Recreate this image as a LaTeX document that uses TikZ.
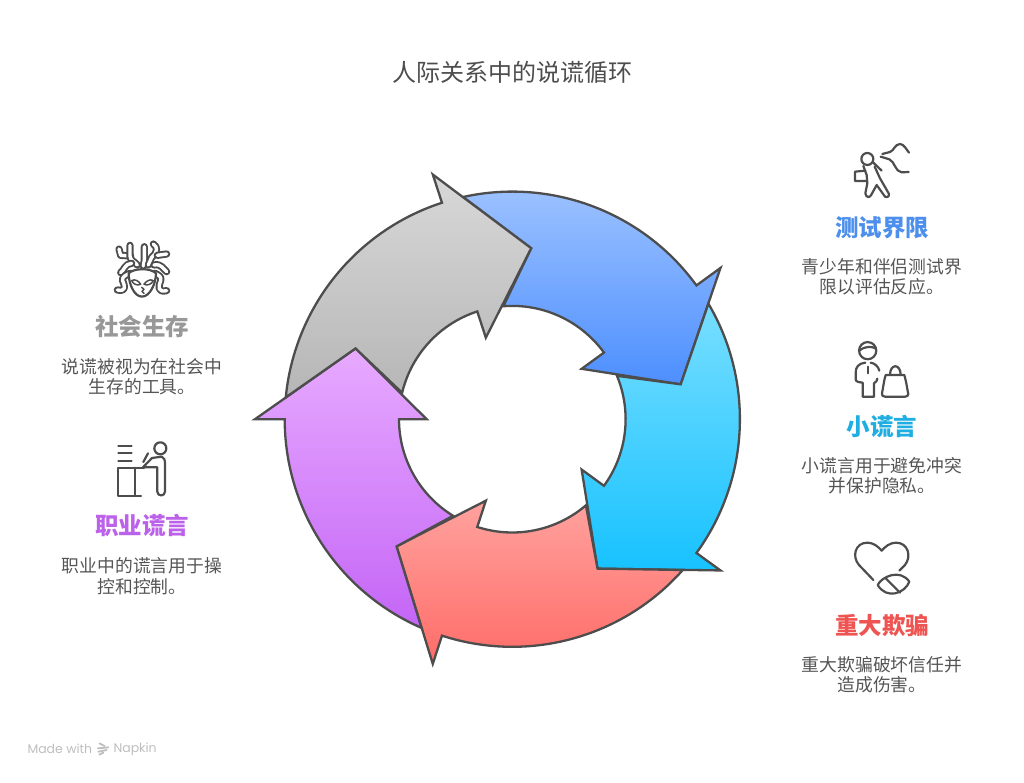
\documentclass[tikz,border=0pt]{standalone}
\usepackage{fontspec}
\setmainfont{Noto Sans CJK SC}
\newfontfamily\markfont{Poppins}
\definecolor{linegray}{HTML}{4D4D4D}
\definecolor{textgray}{HTML}{555555}
\definecolor{markgray}{HTML}{BEBEBE}
\definecolor{blueTop}{HTML}{A0C4FF}
\definecolor{blueBot}{HTML}{4D8FFF}
\definecolor{cyanTop}{HTML}{78DEFF}
\definecolor{cyanBot}{HTML}{17C2FF}
\definecolor{redTop}{HTML}{FFA29E}
\definecolor{redBot}{HTML}{FF6C68}
\definecolor{purpleTop}{HTML}{E7AAFF}
\definecolor{purpleBot}{HTML}{C465F6}
\definecolor{grayTop}{HTML}{D8D8D8}
\definecolor{grayBot}{HTML}{B6B6B6}
\definecolor{headBlue}{HTML}{4C8FEC}
\definecolor{headCyan}{HTML}{1FAEE2}
\definecolor{headRed}{HTML}{EE5552}
\definecolor{headGray}{HTML}{989898}
\definecolor{headPurple}{HTML}{BC62EA}
\tikzset{
  titletext/.style={text=linegray,font=\fontsize{24}{30}\selectfont},
  headtext/.style={font=\bfseries\fontsize{23.5}{28}\selectfont},
  desctext/.style={text=textgray,align=center,font=\fontsize{17.8}{20.4}\selectfont},
  marktext/.style={text=markgray,anchor=west,font=\markfont\fontsize{12.5}{15}\selectfont},
  icon/.style={draw=linegray,line width=2.2pt,line cap=round,line join=round},
  snake/.style={draw=linegray,line width=1.9pt,double=white,double distance=3.4pt,line cap=round,line join=round},
  logo/.style={draw=markgray,line width=1.8pt,line cap=round},
  zoomed/.style={x=.3333pt,y=-.3333pt}
}
\begin{document}
\begin{tikzpicture}[x=1pt,y=1pt]
\useasboundingbox (0,0) rectangle (1024,782);

% title
\node (title) at (512,710) [titletext] {人际关系中的说谎循环};

% ring of arrows
\begin{scope}[shift={(512.3,362.8)}]
\foreach \ang/\ctop/\cbot in {36/blueTop/blueBot,-36/cyanTop/cyanBot,-108/redTop/redBot,180/purpleTop/purpleBot,108/grayTop/grayBot}{
  \path[draw=linegray,line width=2.3pt,shading=axis,top color=\ctop,bottom color=\cbot]
    (\ang+66.5:227.6) arc[start angle=\ang+66.5,end angle=\ang,radius=227.6]
    -- (\ang:257.3) -- (\ang-24.3:172) -- (\ang:85.7) -- (\ang:113.3)
    arc[start angle=\ang,end angle=\ang+58.5,radius=113.3]
    -- (\ang+47.7:172) -- cycle;
}
\end{scope}

% right column
\node (headTest) at (882,554) [headtext,text=headBlue] {测试界限};
\node (descTest) at (882,505) [desctext] {青少年和伴侣测试界\\限以评估反应。};
\node (headSmall) at (882,355) [headtext,text=headCyan] {小谎言};
\node (descSmall) at (882,306) [desctext] {小谎言用于避免冲突\\并保护隐私。};
\node (headBig) at (882,156) [headtext,text=headRed] {重大欺骗};
\node (descBig) at (882,107) [desctext] {重大欺骗破坏信任并\\造成伤害。};

% left column
\node (headSocial) at (142,455) [headtext,text=headGray] {社会生存};
\node (descSocial) at (142,405) [desctext] {说谎被视为在社会中\\生存的工具。};
\node (headWork) at (142,256) [headtext,text=headPurple] {职业谎言};
\node (descWork) at (142,206) [desctext] {职业中的谎言用于操\\控和控制。};

% runner
\begin{scope}[shift={(790,652)},zoomed]
\draw[icon] (232,87) circle (6pt);
\draw[icon] (226,122) -- (195,125) -- (195,153) -- (230,153);
\draw[icon] (220,108) -- (230,135) -- (232,160) -- (226,190) .. controls (228,204) and (240,204) .. (244,194) -- (260,165) -- (285,200) .. controls (292,204) and (300,198) .. (296,190) -- (270,145) -- (254,110);
\draw[icon] (250,98) -- (275,122);
\draw[icon] (277,72) -- (300,66) .. controls (312,62) and (315,42) .. (330,42) .. controls (342,42) and (350,60) .. (357,68);
\draw[icon] (272,80) -- (298,88) .. controls (315,95) and (315,125) .. (335,127) -- (356,126);
\end{scope}

% person with bag
\begin{scope}[shift={(790,452)},zoomed]
\draw[icon] (233,62) circle (8.6pt);
\draw[icon] (208,62) .. controls (225,48) and (245,48) .. (258,56);
\draw[icon] (226,98) .. controls (205,100) and (197,112) .. (197,128) -- (197,148) .. controls (197,156) and (210,158) .. (218,158) -- (218,200) -- (252,200) -- (252,160) .. controls (258,156) and (262,152) .. (262,146);
\draw[icon] (242,98) .. controls (255,100) and (265,110) .. (268,122);
\draw[icon] (234,110) -- (234,130);
\draw[icon] (287,135) -- (343,135) .. controls (350,160) and (352,180) .. (355,192) .. controls (355,198) and (350,200) .. (345,200) -- (285,200) .. controls (278,200) and (275,196) .. (276,190) .. controls (280,170) and (282,150) .. cycle;
\draw[icon] (300,135) .. controls (300,100) and (332,100) .. (332,135);
\end{scope}

% heart and pill
\begin{scope}[shift={(790,252)},zoomed]
\draw[icon] (250,150) -- (207,105) .. controls (185,80) and (195,38) .. (232,38) .. controls (250,38) and (265,50) .. (275,62) .. controls (285,50) and (300,38) .. (318,38) .. controls (355,38) and (365,80) .. (345,105) -- (328,122);
\draw[icon] (263,165) .. controls (275,140) and (330,115) .. (358,155) .. controls (345,190) and (290,210) .. (263,165) -- cycle;
\draw[icon] (287,145) -- (330,188);
\end{scope}

% snake head
\begin{scope}[shift={(50,552)},zoomed]
\draw[snake] (207,57) -- (212,76) -- (242,78);
\draw[snake] (240,46) -- (240,78) .. controls (240,92) and (255,95) .. (262,105);
\draw[snake] (212,128) .. controls (222,122) and (225,100) .. (245,100);
\draw[snake] (202,180) .. controls (230,185) and (225,170) .. (218,152) .. controls (215,140) and (228,135) .. (240,130);
\draw[snake] (283,50) -- (283,90) -- (280,108);
\draw[snake] (310,42) .. controls (325,50) and (322,70) .. (305,82) -- (295,105);
\draw[snake] (350,72) -- (322,76);
\draw[snake] (350,125) .. controls (340,118) and (335,100) .. (312,105);
\draw[snake] (350,182) .. controls (322,188) and (325,170) .. (332,152) .. controls (336,140) and (325,135) .. (315,130);
\draw[icon,fill=white] (236,130) .. controls (250,115) and (300,112) .. (318,130) .. controls (318,160) and (300,200) .. (276,200) .. controls (252,200) and (236,160) .. cycle;
\draw[icon,line width=1.5pt] (245,152) .. controls (255,145) and (268,155) .. (272,163) .. controls (260,168) and (250,162) .. cycle;
\draw[icon,line width=1.5pt] (310,152) .. controls (300,145) and (287,155) .. (282,163) .. controls (294,168) and (305,162) .. cycle;
\draw[icon,line width=1.5pt] (275,172) -- (282,178) -- (276,184) -- (282,190);
\end{scope}

% person at desk
\begin{scope}[shift={(50,352)},zoomed]
\draw[icon] (205,48) -- (245,48);
\draw[icon] (205,70) -- (245,70);
\draw[icon] (205,92) -- (245,92);
\draw[icon] (282,113) -- (205,113) -- (205,198) -- (273,198);
\draw[icon] (255,113) -- (255,198);
\draw[icon] (331,55) circle (6pt);
\draw[icon] (278,113) -- (306,84) -- (335,80) .. controls (342,82) and (345,90) .. (345,100) -- (345,185) .. controls (345,200) and (322,200) .. (322,185) -- (322,112) -- (285,112);
\draw[icon] (280,96) -- (294,70);
\end{scope}

% watermark
\node (madeWith) at (24,33) [marktext] {Made with};
\node (napkin) at (110,33) [marktext] {Napkin};
\begin{scope}[shift={(10,52)},zoomed]
\draw[logo] (268,40) -- (284,48);
\draw[logo] (264,55) -- (295,52);
\draw[logo] (265,65) -- (290,60);
\draw[logo] (268,74) -- (280,68);
\end{scope}
\end{tikzpicture}
\end{document}
